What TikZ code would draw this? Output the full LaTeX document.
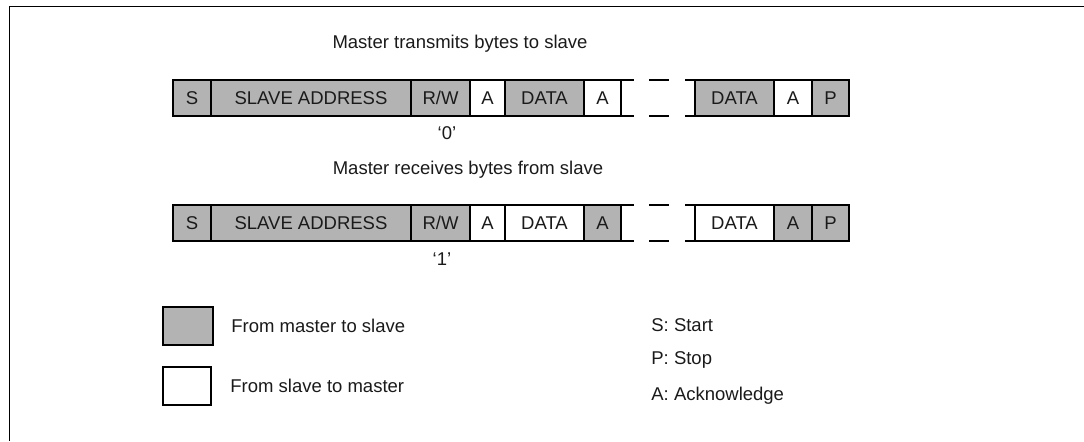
\documentclass[tikz,border=0pt]{standalone}
\usepackage{fontspec}
\setmainfont{Liberation Sans}
\usetikzlibrary{positioning}
\definecolor{Master}{HTML}{B3B3B3}
\definecolor{Ink}{HTML}{1A1A1A}
\tikzset{
  fieldbox/.style={draw=black,line width=1pt,minimum height=18pt,inner sep=0pt,outer sep=0pt,text=Ink,font=\fontsize{9.25}{11}\selectfont},
  mbox/.style={fieldbox,fill=Master},
  sbox/.style={fieldbox,fill=white},
  keybox/.style={draw=black,line width=1pt,minimum height=19pt,minimum width=25pt,inner sep=0pt},
  plain/.style={inner sep=0pt,text=Ink,font=\fontsize{9.25}{11}\selectfont},
  gapline/.style={draw=black,line width=1pt,dash pattern=on 6.5pt off 7.5pt on 10pt off 8pt on 5pt}
}

\begin{document}
\begin{tikzpicture}[x=0.5pt,y=-0.5pt]
  \useasboundingbox (0,0) rectangle (1084,441);
  % frame
  \draw[line width=0.5pt] (1084,6) -- (9,6) -- (9,441);

  % master writes
  \node[plain] (title1) at (460,44) {Master transmits bytes to slave};
  \node[mbox,minimum width=19pt,anchor=west] (start1) at (173,98) {S};
  \node[mbox,minimum width=100pt,right=0pt of start1] (addr1) {SLAVE ADDRESS};
  \node[mbox,minimum width=29.5pt,right=0pt of addr1] (rw1) {R/W};
  \node[sbox,minimum width=17.5pt,right=0pt of rw1] (ack1a) {A};
  \node[mbox,minimum width=39.5pt,right=0pt of ack1a] (data1a) {DATA};
  \node[sbox,minimum width=18.5pt,right=0pt of data1a] (ack1b) {A};
  \node[mbox,minimum width=39.5pt,right=37pt of ack1b] (data1b) {DATA};
  \node[sbox,minimum width=19pt,right=0pt of data1b] (ack1c) {A};
  \node[mbox,minimum width=18.5pt,right=0pt of ack1c] (stop1) {P};
  \draw[gapline] (ack1b.north east) -- (data1b.north west);
  \draw[gapline] (ack1b.south east) -- (data1b.south west);
  \node[plain] (bit1) at (447,133) {‘0’};

  % master reads
  \node[plain] (title2) at (468,170) {Master receives bytes from slave};
  \node[mbox,minimum width=19pt,anchor=west] (start2) at (173,223) {S};
  \node[mbox,minimum width=100pt,right=0pt of start2] (addr2) {SLAVE ADDRESS};
  \node[mbox,minimum width=29.5pt,right=0pt of addr2] (rw2) {R/W};
  \node[sbox,minimum width=17.5pt,right=0pt of rw2] (ack2a) {A};
  \node[sbox,minimum width=39.5pt,right=0pt of ack2a] (data2a) {DATA};
  \node[mbox,minimum width=18.5pt,right=0pt of data2a] (ack2b) {A};
  \node[sbox,minimum width=39.5pt,right=37pt of ack2b] (data2b) {DATA};
  \node[mbox,minimum width=19pt,right=0pt of data2b] (ack2c) {A};
  \node[mbox,minimum width=18.5pt,right=0pt of ack2c] (stop2) {P};
  \draw[gapline] (ack2b.north east) -- (data2b.north west);
  \draw[gapline] (ack2b.south east) -- (data2b.south west);
  \node[plain] (bit2) at (442,259) {‘1’};

  % key
  \node[keybox,fill=Master] (keym) at (188,326) {};
  \node[plain,anchor=west] (keymtext) at (231,326) {From master to slave};
  \node[keybox,fill=white,minimum width=24pt] (keys) at (187,386) {};
  \node[plain,anchor=west] (keystext) at (230,386) {From slave to master};
  \node[plain,anchor=west] (legS) at (651,325) {S: Start};
  \node[plain,anchor=west] (legP) at (651,360) {P: Stop};
  \node[plain,anchor=west] (legA) at (651,396) {A: Acknowledge};
\end{tikzpicture}
\end{document}
